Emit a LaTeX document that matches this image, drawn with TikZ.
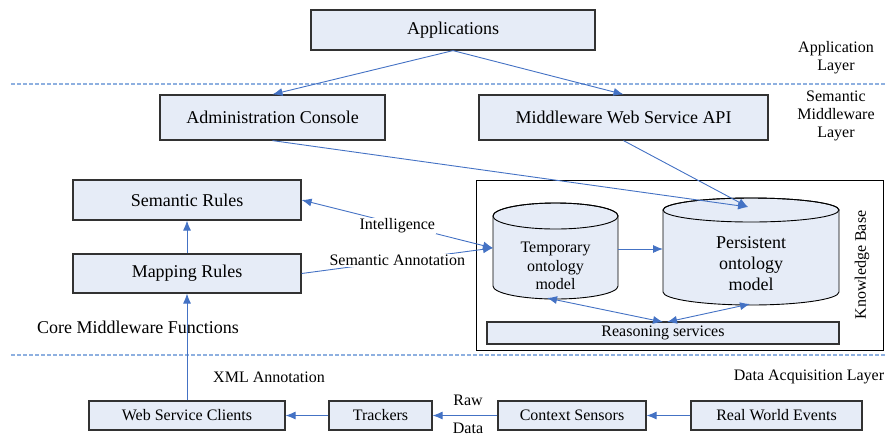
\documentclass[tikz,border=0pt]{standalone}
\usepackage{fontspec}
\setmainfont{Liberation Serif}
\usetikzlibrary{arrows.meta}
\definecolor{boxfill}{RGB}{230,236,247}
\definecolor{arrowblue}{RGB}{68,114,196}
\definecolor{dashblue}{RGB}{142,176,224}
\definecolor{boxline}{RGB}{50,50,50}
\tikzset{
  box/.style={draw=boxline, line width=1.2pt, fill=boxfill, inner sep=0pt, font=\fontsize{18}{20}\selectfont},
  smallbox/.style={box, font=\fontsize{16}{18}\selectfont},
  lbl/.style={font=\fontsize{16}{18}\selectfont, inner sep=1pt},
  biglbl/.style={font=\fontsize{18}{20}\selectfont, inner sep=1pt},
  conn/.style={draw=arrowblue, line width=0.9pt, -{Latex[length=10pt,width=8pt]}},
  conn2/.style={draw=arrowblue, line width=0.9pt, {Latex[length=10pt,width=8pt]}-{Latex[length=10pt,width=8pt]}},
  layerline/.style={draw=dashblue, line width=1.3pt, dash pattern=on 4pt off 2pt},
  cyl/.style={draw=black, line width=0.9pt, fill=boxfill},
}
\begin{document}
\begin{tikzpicture}[x=1pt,y=1pt]
\useasboundingbox (0,0) rectangle (885,-437);
\clip (0,0) rectangle (885,-437);

% layer separators
\draw[layerline] (11,-84) -- (885,-84);
\draw[layerline] (11,-355) -- (885,-355);

% layer labels
\node[lbl, align=center] (lapp) at (836,-58) {Application\\Layer};
\node[lbl, align=center] (lsem) at (836,-116) {Semantic\\Middleware\\Layer};
\node[lbl] (ldata) at (809,-377) {Data Acquisition Layer};
\node[biglbl] (lcore) at (138,-327) {Core Middleware Functions};
\node[lbl] (lxml) at (269,-377) {XML Annotation};

% top boxes
\node[box, minimum width=284pt, minimum height=40pt] (apps) at (453,-30) {Applications};
\node[box, minimum width=225pt, minimum height=45pt] (admin) at (272.5,-117.5) {Administration Console};
\node[box, minimum width=289pt, minimum height=45pt] (mws) at (623.5,-117.5) {Middleware Web Service API};

% rules
\node[box, minimum width=228pt, minimum height=40pt] (sem) at (187,-200) {Semantic Rules};
\node[box, minimum width=228pt, minimum height=39pt] (map) at (187,-273.5) {Mapping Rules};

% knowledge base
\node[draw=black, line width=0.9pt, minimum width=407pt, minimum height=170pt, inner sep=0pt] (kb) at (679.5,-265) {};
\node[lbl, rotate=90] (kbl) at (862,-265) {Knowledge Base};
\node[smallbox, minimum width=352pt, minimum height=22pt] (rs) at (663,-333) {Reasoning services};

% temporary cylinder
\path[cyl] (493,-216) -- (493,-286) arc[start angle=180,end angle=360,x radius=62.5,y radius=13] -- (618,-216) arc[start angle=0,end angle=180,x radius=62.5,y radius=13] -- cycle;
\draw[line width=0.9pt] (555.5,-216) ellipse[x radius=62.5, y radius=13];
\node[lbl, align=center, font=\fontsize{16}{18.5}\selectfont] (tmp) at (555.5,-266) {Temporary\\ontology\\model};

% persistent cylinder
\path[cyl] (663,-210) -- (663,-292) arc[start angle=180,end angle=360,x radius=88,y radius=13] -- (839,-210) arc[start angle=0,end angle=180,x radius=88,y radius=12] -- cycle;
\draw[line width=0.9pt] (751,-210) ellipse[x radius=88, y radius=12];
\node[biglbl, align=center, font=\fontsize{18}{21}\selectfont] (per) at (751,-264) {Persistent\\ontology\\model};

% connection points on cylinders
\coordinate (tmpW) at (493,-248);
\coordinate (tmpE) at (618,-249);
\coordinate (tmpS) at (547,-298);
\coordinate (perW) at (663,-249);
\coordinate (perT) at (748,-207);
\coordinate (perS) at (750,-304);
\coordinate (rsA) at (663,-322);
\coordinate (rsB) at (667,-322);

% bottom boxes
\node[smallbox, minimum width=196pt, minimum height=29pt] (wsc) at (187,-415.5) {Web Service Clients};
\node[smallbox, minimum width=103pt, minimum height=29pt] (trk) at (380.5,-415.5) {Trackers};
\node[smallbox, minimum width=148pt, minimum height=29pt] (cs) at (572,-415.5) {Context Sensors};
\node[smallbox, minimum width=171pt, minimum height=29pt] (rwe) at (776.5,-415.5) {Real World Events};

% connectors
\draw[conn] (apps.south) -- (admin.north);
\draw[conn] (apps.south) -- (mws.north);
\draw[conn] (admin.south) -- (perT);
\draw[conn] (mws.south) -- (perT);
\draw[conn] (map.north) -- (sem.south);
\draw[conn] (wsc.north) -- (map.south);
\draw[conn2] (sem.east) -- node[lbl, fill=white, midway, yshift=-2pt] (intl) {Intelligence} (tmpW);
\draw[conn] (map.east) -- node[lbl, fill=white, midway] (sann) {Semantic Annotation} (tmpW);
\draw[conn] (tmpE) -- (perW);
\draw[conn2] (tmpS) -- (rsA);
\draw[conn2] (rsB) -- (perS);
\draw[conn] (rwe.west) -- (cs.east);
\draw[conn] (cs.west) -- (trk.east);
\draw[conn] (trk.west) -- (wsc.east);
\node[lbl] (raw) at (468,-400) {Raw};
\node[lbl] (data) at (468,-428) {Data};
\end{tikzpicture}
\end{document}
